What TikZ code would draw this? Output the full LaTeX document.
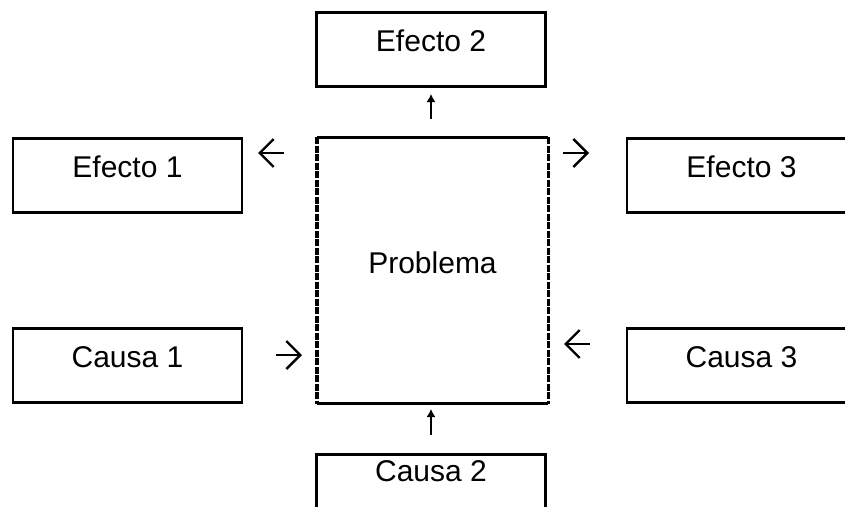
\documentclass[tikz,border=0pt]{standalone}
\usepackage{fontspec}
\setmainfont{Liberation Sans}
\usetikzlibrary{arrows.meta}

\begin{document}
\begin{tikzpicture}[x=1pt, y=-1pt, font=\fontsize{30}{36}\selectfont,
  box/.style={draw, line width=2.5pt, minimum width=229pt, minimum height=74pt, inner sep=0pt, text height=39pt, text depth=35pt, anchor=north},
  harrow/.style={line width=2.4pt, -{Straight Barb[length=14pt,width=28pt]}},
  varrow/.style={line width=1.3pt, -{Latex[length=8pt,width=9pt]}}]
\useasboundingbox (0,0) rectangle (845,506);
\clip (0,0) rectangle (845,506);
% effects above, causes below
\node[box] (ef1) at (127.5,137) {Efecto 1};
\node[box] (ef2) at (431,11) {Efecto 2};
\node[box] (ef3) at (741.5,137) {Efecto 3};
\node[box] (ca1) at (127.5,327) {Causa 1};
\node[box, text height=27pt, text depth=47pt] (ca2) at (431,453) {Causa 2};
\node[box] (ca3) at (741.5,327) {Causa 3};
% the problem box: solid top and bottom, dashed sides
\node[box, draw=none, minimum height=264pt, text height=135pt, text depth=129pt] (prob) at (432.5,137) {Problema};
\draw[line width=3pt] (prob.north west) -- (prob.north east) (prob.south west) -- (prob.south east);
\draw[line width=3.5pt, dash pattern=on 7pt off 1.5pt] (prob.north west) -- (prob.south west) (prob.north east) -- (prob.south east);
% arrows
\foreach \n/\x/\y in {e1a/284/153, e1b/258/153, e3a/563/153, e3b/589/153, c1a/276/355, c1b/302/355, c3a/590/344, c3b/564/344, e2a/431/119, e2b/431/94, c2a/431/435, c2b/431/409}
  \coordinate (\n) at (\x,\y);
\foreach \a/\b in {e1a/e1b, e3a/e3b, c1a/c1b, c3a/c3b} \draw[harrow] (\a) -- (\b);
\foreach \a/\b in {e2a/e2b, c2a/c2b} \draw[varrow] (\a) -- (\b);
\end{tikzpicture}
\end{document}
